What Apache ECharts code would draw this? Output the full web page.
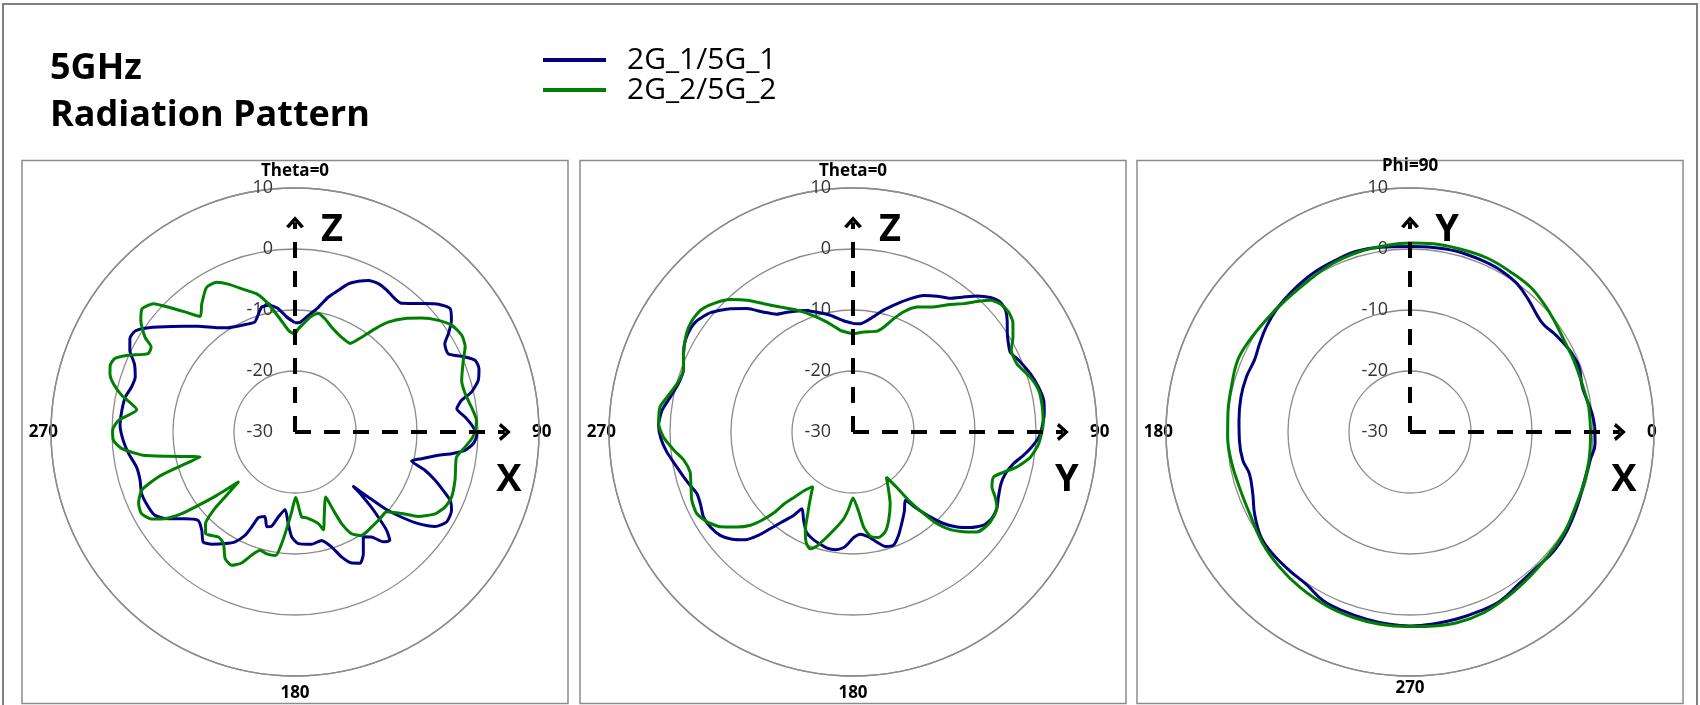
<!DOCTYPE html>
<html>
<head>
<meta charset="utf-8">
<title>5GHz Radiation Pattern</title>
<script src="https://cdn.jsdelivr.net/npm/echarts@6.0.0/dist/echarts.min.js"></script>
<style>
  html, body { margin: 0; padding: 0; background: #fff; }
  #chart { width: 1700px; height: 705px; }
</style>
</head>
<body>
<div id="chart"></div>
<script>
// legend names, panel headers and axis letters
const seriesNames = ['2G_1/5G_1', '2G_2/5G_2']
const panelTitles = ['Theta=0', 'Theta=0', 'Phi=90']
const axisLetters = [['Z', 'X'], ['Z', 'Y'], ['Y', 'X']]
const radiusTicks = [-30, 10, 10] // min, max, step (dB)

// [angle (deg), gain (dB)]
const xzPlane1 = [[0, -12.1], [2.6, -12.0], [6.5, -10.8], [10.6, -9.2], [13.9, -7.2], [17.0, -5.7], [19.8, -4.2], [22.8, -3.2], [25.8, -2.4], [29.3, -2.1], [32.9, -2.3], [36.9, -2.7], [39.6, -2.6], [44.6, -0.4], [48.3, 1.5], [51.5, 2.5], [54.5, 1.5], [57.3, -0.1], [59.5, -1.5], [62.9, -1.8], [66.2, 0.5], [68.3, 1.8], [71.0, 1.9], [74.3, 1.2], [77.2, -0.3], [79.2, -2.2], [81.8, -3.2], [85.0, -2.0], [88.4, -0.8], [91.1, -0.2], [93.7, -0.7], [96.2, -2.0], [97.9, -4.1], [99.2, -6.2], [101.9, -8.8], [104.0, -10.3], [106.4, -7.8], [109.0, -5.7], [111.5, -3.9], [113.8, -2.2], [116.6, -1.3], [120.7, -1.1], [124.0, -2.3], [126.6, -4.8], [128.6, -7.6], [130.4, -10.6], [131.6, -13.9], [133.0, -16.9], [133.5, -14.9], [134.4, -12.8], [135.6, -10.5], [137.0, -8.0], [138.8, -6.4], [141.2, -6.9], [143.9, -8.7], [146.9, -9.5], [150.7, -7.1], [153.6, -6.0], [156.6, -6.6], [159.5, -8.1], [162.3, -10.2], [166.2, -11.7], [171.6, -11.4], [178.3, -11.7], [181.8, -12.8], [184.2, -14.9], [187.3, -17.2], [191.1, -15.8], [193.9, -14.1], [196.6, -13.8], [199.6, -15.3], [203.2, -14.7], [204.5, -12.9], [205.8, -11.2], [208.6, -9.5], [212.1, -8.4], [216.6, -7.1], [219.8, -6.5], [223.5, -7.8], [227.6, -8.5], [231.8, -7.0], [235.6, -4.8], [239.2, -3.3], [242.9, -3.0], [248.1, -2.9], [252.7, -3.4], [257.5, -3.4], [262.6, -2.5], [267.2, -1.8], [272.2, -1.3], [277.1, -1.4], [281.6, -1.6], [285.4, -2.2], [289.0, -2.3], [293.0, -1.4], [296.3, 0.2], [299.5, 1.1], [302.3, 1.0], [305.4, -0.5], [310.6, -3.4], [317.5, -6.5], [323.7, -8.8], [327.4, -9.7], [336.7, -10.7], [340.0, -10.8], [345.1, -8.8], [348.8, -8.8], [352.3, -9.6], [355.9, -11.1], [360, -12.1]]
const xzPlane2 = [[0, -14.0], [1.8, -13.1], [5.2, -11.9], [8.2, -10.8], [11.2, -10.2], [14.8, -10.8], [19.3, -11.8], [26.2, -12.7], [31.9, -12.9], [35.1, -11.0], [37.8, -8.6], [40.3, -6.4], [44.1, -4.1], [48.0, -2.1], [52.1, -0.2], [55.8, 1.1], [59.9, 1.6], [63.4, 1.2], [66.9, 0.0], [72.8, -1.4], [77.3, -1.4], [81.9, -0.8], [86.3, -0.2], [89.5, -0.4], [92.2, -1.0], [95.0, -2.0], [98.8, -3.2], [102.9, -3.0], [106.8, -2.6], [112.5, -2.2], [116.6, -2.5], [120.3, -3.4], [124.4, -5.5], [127.4, -8.0], [131.1, -10.1], [135.6, -10.1], [141.1, -10.0], [147.2, -9.8], [150.9, -10.9], [153.0, -13.1], [153.9, -15.7], [154.7, -18.2], [161.0, -15.3], [163.8, -13.3], [165.7, -14.5], [172.2, -15.8], [175.5, -16.0], [179.4, -19.3], [182.4, -16.9], [184.9, -14.1], [186.8, -11.6], [188.9, -9.5], [193.1, -9.5], [196.5, -9.8], [199.4, -8.6], [202.2, -6.8], [205.4, -5.8], [208.9, -6.3], [212.7, -8.3], [216.1, -8.7], [221.3, -7.8], [224.3, -9.0], [226.2, -11.5], [227.1, -14.3], [228.6, -17.6], [231.0, -13.5], [232.8, -10.1], [234.2, -7.1], [236.3, -4.4], [238.8, -2.5], [242.0, -1.5], [245.4, -1.8], [249.2, -3.1], [251.8, -6.4], [253.3, -10.0], [255.3, -13.9], [259.1, -8.9], [261.3, -4.8], [264.5, -1.5], [267.4, -0.2], [270.5, -0.1], [273.8, -1.0], [278.0, -3.8], [281.9, -1.0], [284.9, 0.8], [287.5, 1.8], [289.8, 2.2], [292.2, 1.9], [294.7, 0.1], [298.1, -2.7], [300.6, -2.6], [302.3, -0.9], [305.9, 1.2], [308.9, 2.2], [312.2, 1.3], [314.3, -0.6], [317.5, -3.3], [320.6, -5.5], [324.0, -4.0], [328.6, -2.2], [332.4, -2.3], [335.7, -3.4], [340.6, -5.3], [344.5, -6.5], [347.7, -8.2], [350.5, -10.1], [353.9, -12.1], [356.6, -13.4], [360, -14.0]]
const yzPlane1 = [[0, -12.2], [3.9, -12.2], [8.7, -11.2], [14.1, -9.4], [18.9, -7.8], [23.3, -6.2], [27.3, -4.8], [31.8, -3.8], [36.0, -2.9], [39.3, -1.4], [42.4, 0.2], [45.6, 1.5], [48.6, 2.2], [51.4, 2.0], [54.1, 1.2], [57.5, 0.0], [60.4, -0.7], [63.1, -1.1], [66.6, -0.4], [71.8, 0.6], [76.4, 1.3], [80.6, 1.7], [84.5, 1.5], [88.5, 1.0], [91.5, 0.5], [94.8, -0.6], [97.8, -1.8], [101.2, -3.2], [105.3, -4.1], [109.2, -4.3], [114.0, -3.9], [118.0, -3.3], [121.9, -3.2], [125.5, -3.7], [129.2, -5.2], [132.4, -6.9], [135.3, -8.9], [137.7, -11.2], [140.1, -13.6], [142.6, -15.9], [146.8, -14.6], [151.4, -13.2], [156.2, -11.5], [160.3, -10.3], [164.2, -10.5], [167.7, -11.5], [171.5, -12.6], [175.9, -13.2], [179.6, -12.7], [182.2, -11.8], [184.6, -11.0], [188.5, -10.5], [192.6, -10.5], [197.1, -10.9], [201.0, -11.3], [205.0, -11.9], [209.2, -13.4], [213.6, -14.9], [215.5, -13.2], [218.3, -11.2], [220.5, -9.2], [222.4, -7.1], [225.0, -5.0], [228.4, -3.5], [232.1, -2.4], [236.3, -1.9], [240.4, -1.8], [244.3, -2.3], [248.4, -2.5], [251.9, -1.9], [255.1, -1.3], [259.4, -0.4], [263.9, 0.7], [268.0, 1.5], [272.0, 1.9], [276.5, 1.5], [280.8, 0.5], [285.5, -0.3], [290.1, -0.4], [293.9, 0.4], [297.2, 1.1], [300.7, 1.5], [304.9, 1.5], [309.8, 0.5], [315.2, -1.5], [319.3, -3.3], [323.3, -5.5], [327.1, -7.0], [331.2, -7.6], [337.9, -8.5], [343.3, -9.5], [349.0, -10.5], [355.2, -11.7], [360, -12.2]]
const yzPlane2 = [[0, -13.9], [6.1, -13.5], [13.4, -13.0], [16.3, -12.1], [19.7, -10.3], [22.9, -8.6], [27.1, -7.0], [32.8, -5.6], [37.4, -3.7], [40.8, -2.2], [43.5, -0.5], [46.2, 1.2], [49.0, 2.0], [52.4, 2.2], [55.5, 1.8], [59.3, 0.5], [62.7, -0.8], [67.4, -0.9], [72.8, 0.4], [77.4, 1.2], [82.5, 1.3], [87.5, 1.2], [93.6, 0.5], [98.0, -0.6], [102.0, -2.5], [104.9, -4.4], [107.7, -5.8], [111.6, -5.5], [114.5, -4.4], [117.5, -3.4], [121.1, -3.1], [124.9, -3.2], [128.9, -3.9], [132.1, -5.6], [135.1, -7.4], [137.5, -9.6], [139.1, -12.3], [140.7, -15.2], [141.7, -18.4], [143.5, -20.8], [148.6, -18.8], [152.5, -16.8], [158.0, -14.4], [162.1, -12.8], [166.3, -12.2], [170.6, -12.7], [173.6, -14.3], [175.9, -16.9], [180.0, -19.2], [183.2, -17.4], [186.1, -15.7], [190.4, -13.9], [193.9, -12.3], [197.5, -10.4], [200.1, -9.6], [202.7, -10.2], [205.9, -12.1], [209.0, -14.7], [212.6, -17.0], [216.4, -18.9], [219.9, -17.4], [222.1, -15.5], [223.8, -13.6], [224.4, -11.4], [225.9, -9.2], [227.7, -7.3], [230.7, -5.4], [234.4, -3.3], [238.4, -1.9], [242.4, -1.1], [247.0, -1.3], [252.3, -2.1], [256.2, -2.5], [260.5, -1.9], [264.2, -0.5], [268.5, 1.1], [272.5, 1.9], [277.4, 1.9], [280.7, 1.0], [285.4, -0.1], [290.1, -0.4], [294.8, 0.6], [300.5, 1.7], [304.7, 2.1], [308.6, 2.0], [312.6, 1.1], [317.2, -0.4], [321.2, -2.3], [325.2, -4.4], [329.8, -6.3], [335.3, -8.0], [340.6, -9.7], [346.7, -11.5], [352.9, -13.2], [360, -13.9]]
const xyPlane1 = [[1.6, 0.3], [5.8, 0.0], [10.2, -0.5], [14.8, -0.8], [21.1, -0.3], [25.9, -0.5], [29.9, -0.9], [34.5, -1.4], [38.7, -1.9], [42.6, -1.7], [48.1, -0.9], [54.3, 0.0], [60.9, 0.4], [67.8, 0.5], [75.5, 0.6], [82.8, 0.5], [90, 0.4], [99.2, 0.7], [106.5, 0.9], [113.1, 0.7], [121.4, 0.5], [130.2, 0.1], [137.6, -0.3], [143.8, -0.8], [149.5, -1.4], [155.2, -1.9], [161.4, -1.7], [168.3, -1.7], [176.1, -1.9], [182.8, -2.0], [189.6, -2.2], [194.6, -2.8], [201.5, -2.3], [207.8, -1.2], [215.3, -0.1], [221.7, 0.1], [229.1, 0.1], [235.7, 0.2], [242.8, 1.1], [249.5, 1.3], [256.9, 1.5], [264.0, 1.7], [270, 1.8], [276.9, 1.7], [284.0, 1.6], [291.4, 1.5], [298.1, 1.4], [306.3, 0.6], [313.2, 0.4], [320.5, 0.6], [327.9, 0.4], [335.8, 0.0], [343.4, -0.3], [351.1, -0.1], [356.4, 0.4]]
const xyPlane2 = [[8.0, -0.4], [15.7, -0.7], [23.7, -0.7], [30.9, -0.6], [37.9, -0.1], [43.9, 0.4], [50.4, 0.9], [58.0, 1.0], [66.1, 1.2], [74.7, 1.1], [82.9, 1.1], [90, 1.0], [98.2, 0.8], [105.5, 0.7], [114.5, 0.4], [123.4, -0.1], [133.1, -0.3], [142.1, -0.1], [150.2, 0.3], [157.3, 0.6], [165.8, 0.2], [174.2, 0.0], [181.6, -0.1], [189.0, -0.3], [197.9, -0.6], [207.0, -0.5], [217.3, 0.3], [226.1, 0.8], [234.6, 1.2], [244.3, 1.6], [253.0, 1.8], [261.1, 1.9], [269.0, 1.9], [275.9, 2.0], [283.8, 2.2], [292.2, 2.0], [300.4, 1.4], [309.2, 0.8], [317.6, 0.4], [326.5, 0.2], [334.4, -0.2], [343.4, -0.3], [351.0, -0.3], [359.5, -0.4]]

const BLUE = '#000080'
const GREEN = '#008000'
const GRID = '#8c8c8c'
const FONT = "'Open Sans', 'Liberation Sans', sans-serif"
const CHEVRON = 'path://M0,10 L9,0 L18,10 L15,12 L9,5 L3,12 Z'

// panels: polar center x, first angle on the axis, direction, label nudge
const panels = [
  { cx: 295, minAngle: 0, clockwise: true, data: [xzPlane1, xzPlane2], smooth: 0.2, lift: 0 },
  { cx: 853, minAngle: 0, clockwise: true, data: [yzPlane1, yzPlane2], smooth: 0.2, lift: 0 },
  { cx: 1410, minAngle: 90, clockwise: false, data: [xyPlane1, xyPlane2], smooth: 0.4, lift: 10 }
]
const CY = 432
const RADIUS = 244

// [angle, gain] -> [radius, angle] for the polar system, closed loop
function toPolar (points, minAngle) {
  const list = points.map(p => [p[1], p[0] < minAngle ? p[0] + 360 : p[0]])
  list.push(list[0])
  return list
}

// dashed axis arrow drawn from the centre out to about +4.4 dB
function arrowSeries (i, angle, letter, rotate, offset) {
  return {
    type: 'line',
    coordinateSystem: 'polar',
    polarIndex: i,
    silent: true,
    z: 5,
    symbol: CHEVRON,
    symbolSize: [18, 12],
    showSymbol: true,
    showAllSymbol: true,
    lineStyle: { color: '#000', width: 4, type: [16, 13], cap: 'butt' },
    itemStyle: { color: '#000', borderWidth: 0 },
    emphasis: { disabled: true },
    data: [
      { value: [-30, angle], symbol: 'none' },
      {
        value: [4.4, angle],
        symbolRotate: rotate,
        label: {
          show: true,
          position: 'inside',
          offset: offset,
          formatter: letter,
          fontFamily: FONT,
          fontSize: 38,
          fontWeight: 'bold',
          color: '#000'
        }
      }
    ]
  }
}

function buildOption () {
  const polar = []
  const angleAxis = []
  const radiusAxis = []
  const series = []
  const graphic = [{
    type: 'rect',
    silent: true,
    z: -10,
    shape: { x: 3, y: 4, width: 1694, height: 710 },
    style: { fill: 'none', stroke: '#7f7f7f', lineWidth: 2 }
  }]

  panels.forEach((p, i) => {
    graphic.push({
      type: 'rect',
      silent: true,
      z: -10,
      shape: { x: p.cx - 273, y: 160.5, width: 546, height: 543 },
      style: { fill: 'none', stroke: GRID, lineWidth: 1.5 }
    })
    polar.push({ center: [p.cx, CY], radius: RADIUS })
    angleAxis.push({
      polarIndex: i,
      type: 'value',
      min: p.minAngle,
      max: p.minAngle + 360,
      interval: 90,
      startAngle: 90,
      clockwise: p.clockwise,
      axisLine: { lineStyle: { color: GRID, width: 1.5 } },
      axisTick: { show: false },
      splitLine: { show: false },
      axisLabel: {
        margin: -7,
        lineHeight: 48 - p.lift,
        padding: [0, 0, p.lift, 0],
        fontFamily: FONT,
        fontSize: 17,
        fontWeight: 'bold',
        color: '#000',
        formatter: v => (v === p.minAngle ? panelTitles[i] : String(v % 360))
      }
    })
    radiusAxis.push({
      polarIndex: i,
      type: 'value',
      min: radiusTicks[0],
      max: radiusTicks[1],
      interval: radiusTicks[2],
      axisLine: { show: false },
      axisTick: { show: false },
      splitLine: { show: true, lineStyle: { color: GRID, width: 1.3 } },
      axisLabel: { margin: 22, fontFamily: FONT, fontSize: 18, color: '#333' }
    })

    ;[BLUE, GREEN].forEach((color, k) => {
      series.push({
        name: seriesNames[k],
        type: 'line',
        coordinateSystem: 'polar',
        polarIndex: i,
        showSymbol: false,
        smooth: p.smooth,
        silent: true,
        z: 3,
        lineStyle: { color: color, width: 3 },
        itemStyle: { color: color },
        data: toPolar(p.data[k], p.minAngle)
      })
    })

    const upAngle = p.minAngle
    const rightAngle = p.clockwise ? p.minAngle + 90 : p.minAngle + 270
    series.push(arrowSeries(i, upAngle, axisLetters[i][0], 0, [37, 8]))
    series.push(arrowSeries(i, rightAngle, axisLetters[i][1], -90, [4, 48]))
  })

  return {
    backgroundColor: '#fff',
    animation: false,
    title: {
      text: '5GHz\nRadiation Pattern',
      left: 50,
      top: 45,
      padding: 0,
      textStyle: { fontFamily: FONT, fontSize: 36, fontWeight: 'bold', color: '#000', lineHeight: 47 }
    },
    legend: {
      data: seriesNames,
      orient: 'vertical',
      left: 543,
      top: 45,
      padding: 0,
      itemWidth: 63,
      itemHeight: 4,
      itemGap: 0,
      icon: 'rect',
      selectedMode: false,
      textStyle: { fontFamily: FONT, fontSize: 30, color: '#000', lineHeight: 26.5, padding: [0, 0, 0, 16] }
    },
    polar,
    angleAxis,
    radiusAxis,
    series,
    graphic
  }
}

function initChart () {
  const chart = echarts.init(document.getElementById('chart'), null, { renderer: 'canvas' })
  chart.setOption(buildOption())
}

initChart()
</script>
</body>
</html>
